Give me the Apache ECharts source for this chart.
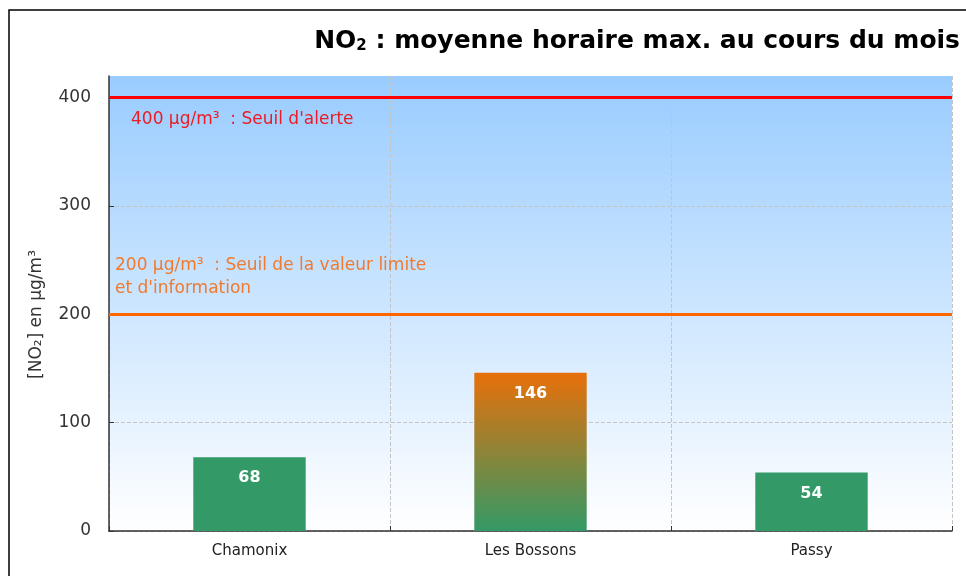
<!DOCTYPE html>
<html>
<head>
<meta charset="utf-8">
<script src="https://cdn.jsdelivr.net/npm/echarts@6/dist/echarts.min.js"></script>
<style>
  html, body { margin: 0; padding: 0; background: #ffffff; }
  #chart { width: 966px; height: 576px; }
</style>
</head>
<body>
<div id="chart"></div>
<script>
// ---- data ----
const categories = ['Chamonix', 'Les Bossons', 'Passy'];
const values = [68, 146, 54];
const thresholdValues = [400, 200];
const thresholdLabels = [
  "400 µg/m³  : Seuil d'alerte",
  "200 µg/m³  : Seuil de la valeur limite\net d'information"
];
const yMin = 0;
const yMax = 420;
const yInterval = 100;

// ---- styles ----
const FONT = '"DejaVu Sans", Verdana, sans-serif';
const GREEN = '#339966';
const thresholdColors = ['#FF0000', '#FF6600'];
const thresholdTextColors = ['#EC1C24', '#F07A2E'];

const chart = echarts.init(document.getElementById('chart'), null, { renderer: 'canvas' });

const markData = thresholdValues.map((v, i) => ({
  yAxis: v,
  lineStyle: { color: thresholdColors[i], width: 3, type: 'solid' },
  label: {
    show: true,
    formatter: thresholdLabels[i],
    position: i === 0 ? 'insideStartBottom' : 'insideStartTop',
    distance: i === 0 ? [22, 10] : [6, 14],
    color: thresholdTextColors[i],
    fontFamily: FONT,
    fontSize: 17,
    lineHeight: 23,
    align: 'left'
  }
}));

const option = {
  backgroundColor: '#ffffff',
  animation: false,
  textStyle: { fontFamily: FONT },
  graphic: [{
    type: 'rect',
    shape: { x: 9, y: 10, width: 1000, height: 620 },
    style: { fill: null, stroke: '#000000', lineWidth: 1.5 },
    silent: true,
    z: -10
  }],
  title: {
    text: '{b|NO}{s|2}{b| : moyenne horaire max. au cours du mois}',
    right: 1,
    top: 19,
    textStyle: {
      rich: {
        b: { fontFamily: FONT, fontWeight: 'bold', fontSize: 25, color: '#000', verticalAlign: 'bottom', lineHeight: 30 },
        s: { fontFamily: FONT, fontWeight: 'bold', fontSize: 15, color: '#000', verticalAlign: 'bottom', lineHeight: 15 }
      }
    }
  },
  grid: {
    left: 109, right: 14, top: 76, bottom: 45,
    show: true,
    borderWidth: 0,
    backgroundColor: new echarts.graphic.LinearGradient(0, 0, 0, 1, [
      { offset: 0, color: '#99CCFF' },
      { offset: 1, color: '#FFFFFF' }
    ])
  },
  xAxis: {
    type: 'category',
    data: categories,
    axisLine: { lineStyle: { color: '#333333', width: 1.5 } },
    axisTick: { show: true, inside: true, length: 5, lineStyle: { color: '#333333' } },
    axisLabel: { color: '#222222', fontFamily: FONT, fontSize: 15, margin: 13 },
    splitLine: { show: true, lineStyle: { color: '#c4c4c4', type: 'dashed', width: 1 } }
  },
  yAxis: {
    type: 'value',
    min: yMin,
    max: yMax,
    interval: yInterval,
    name: '[NO₂] en µg/m³',
    nameLocation: 'middle',
    nameGap: 64,
    nameRotate: 90,
    nameTextStyle: { color: '#333333', fontFamily: FONT, fontSize: 17, padding: [0, 22, 0, 0] },
    axisLine: { show: true, lineStyle: { color: '#333333', width: 1.5 } },
    axisTick: { show: true, inside: true, length: 5, lineStyle: { color: '#333333' } },
    axisLabel: { color: '#333333', fontFamily: FONT, fontSize: 17, margin: 18, showMaxLabel: false,
      formatter: v => (v % yInterval === 0 ? String(v) : '') },
    splitLine: { show: true, showMaxLine: false, lineStyle: { color: '#c4c4c4', type: 'dashed', width: 1 } }
  },
  series: [{
    type: 'bar',
    data: values,
    barWidth: '40%',
    itemStyle: {
      color: params => params.dataIndex === 1
        ? new echarts.graphic.LinearGradient(0, 0, 0, 1, [
            { offset: 0, color: '#E8700A' },
            { offset: 1, color: GREEN }
          ])
        : GREEN
    },
    label: {
      show: true,
      position: 'insideTop',
      distance: 13,
      color: '#ffffff',
      fontFamily: FONT,
      fontWeight: 'bold',
      fontSize: 16
    },
    markLine: {
      silent: true,
      symbol: 'none',
      animation: false,
      data: markData
    }
  }]
};

chart.setOption(option);
</script>
</body>
</html>
